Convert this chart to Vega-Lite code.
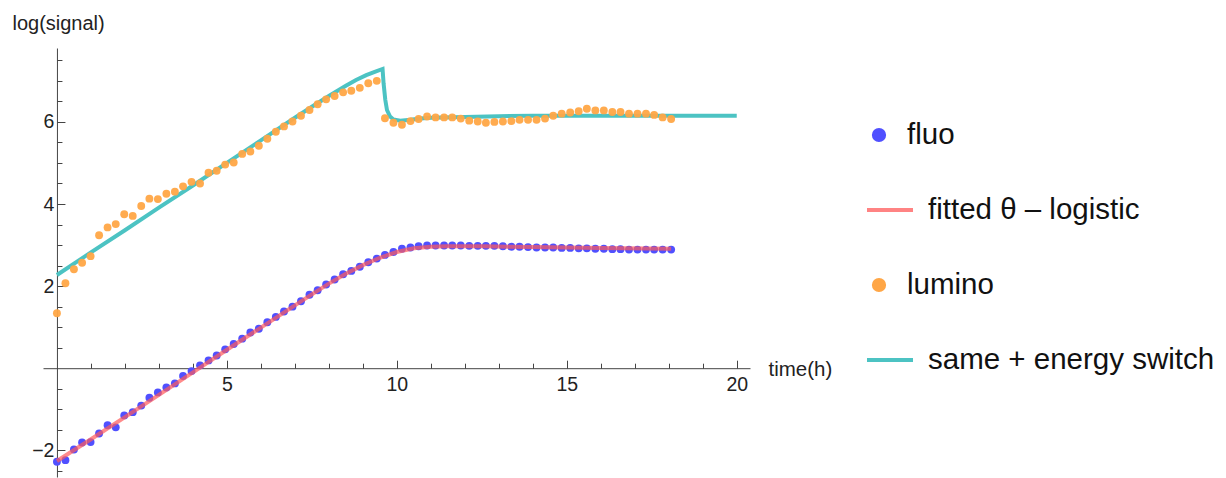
{
  "$schema": "https://vega.github.io/schema/vega-lite/v6.json",
  "width": 707,
  "height": 429,
  "autosize": {"type": "none"},
  "padding": {"left": 43, "top": 48, "right": 476, "bottom": 1},
  "background": "white",
  "config": {"view": {"stroke": null}, "font": "Liberation Sans", "axis": {"labelOverlap": false}},
  "datasets": {
    "obs": [
      {"t": 0, "fluo": -2.28, "lumino": 1.34},
      {"t": 0.25, "fluo": -2.24, "lumino": 2.07},
      {"t": 0.5, "fluo": -1.98, "lumino": 2.41},
      {"t": 0.74, "fluo": -1.81, "lumino": 2.57},
      {"t": 0.99, "fluo": -1.8, "lumino": 2.73},
      {"t": 1.24, "fluo": -1.59, "lumino": 3.24},
      {"t": 1.49, "fluo": -1.39, "lumino": 3.43},
      {"t": 1.73, "fluo": -1.44, "lumino": 3.51},
      {"t": 1.98, "fluo": -1.15, "lumino": 3.75},
      {"t": 2.23, "fluo": -1.07, "lumino": 3.71},
      {"t": 2.48, "fluo": -0.91, "lumino": 3.95},
      {"t": 2.72, "fluo": -0.72, "lumino": 4.13},
      {"t": 2.97, "fluo": -0.59, "lumino": 4.12},
      {"t": 3.22, "fluo": -0.47, "lumino": 4.25},
      {"t": 3.47, "fluo": -0.37, "lumino": 4.3},
      {"t": 3.71, "fluo": -0.19, "lumino": 4.43},
      {"t": 3.96, "fluo": -0.07, "lumino": 4.54},
      {"t": 4.21, "fluo": 0.07, "lumino": 4.5},
      {"t": 4.46, "fluo": 0.19, "lumino": 4.76},
      {"t": 4.7, "fluo": 0.31, "lumino": 4.81},
      {"t": 4.95, "fluo": 0.46, "lumino": 4.96},
      {"t": 5.2, "fluo": 0.59, "lumino": 5.01},
      {"t": 5.45, "fluo": 0.72, "lumino": 5.22},
      {"t": 5.69, "fluo": 0.87, "lumino": 5.28},
      {"t": 5.94, "fluo": 0.96, "lumino": 5.42},
      {"t": 6.19, "fluo": 1.12, "lumino": 5.59},
      {"t": 6.44, "fluo": 1.25, "lumino": 5.76},
      {"t": 6.68, "fluo": 1.38, "lumino": 5.89},
      {"t": 6.93, "fluo": 1.5, "lumino": 6.01},
      {"t": 7.18, "fluo": 1.63, "lumino": 6.15},
      {"t": 7.43, "fluo": 1.79, "lumino": 6.29},
      {"t": 7.67, "fluo": 1.9, "lumino": 6.43},
      {"t": 7.92, "fluo": 2.04, "lumino": 6.55},
      {"t": 8.17, "fluo": 2.16, "lumino": 6.63},
      {"t": 8.42, "fluo": 2.29, "lumino": 6.72},
      {"t": 8.66, "fluo": 2.37, "lumino": 6.76},
      {"t": 8.91, "fluo": 2.47, "lumino": 6.83},
      {"t": 9.16, "fluo": 2.58, "lumino": 6.94},
      {"t": 9.41, "fluo": 2.67, "lumino": 7.0},
      {"t": 9.65, "fluo": 2.76, "lumino": 6.09},
      {"t": 9.9, "fluo": 2.83, "lumino": 5.98},
      {"t": 10.15, "fluo": 2.91, "lumino": 5.93},
      {"t": 10.4, "fluo": 2.94, "lumino": 6.02},
      {"t": 10.64, "fluo": 2.97, "lumino": 6.07},
      {"t": 10.89, "fluo": 2.99, "lumino": 6.13},
      {"t": 11.14, "fluo": 2.99, "lumino": 6.11},
      {"t": 11.39, "fluo": 2.99, "lumino": 6.11},
      {"t": 11.63, "fluo": 2.99, "lumino": 6.11},
      {"t": 11.88, "fluo": 2.99, "lumino": 6.08},
      {"t": 12.13, "fluo": 2.98, "lumino": 6.03},
      {"t": 12.38, "fluo": 2.98, "lumino": 6.01},
      {"t": 12.62, "fluo": 2.98, "lumino": 5.98},
      {"t": 12.87, "fluo": 2.98, "lumino": 6.0},
      {"t": 13.12, "fluo": 2.97, "lumino": 6.01},
      {"t": 13.37, "fluo": 2.96, "lumino": 6.02},
      {"t": 13.61, "fluo": 2.96, "lumino": 6.05},
      {"t": 13.86, "fluo": 2.95, "lumino": 6.05},
      {"t": 14.11, "fluo": 2.94, "lumino": 6.05},
      {"t": 14.36, "fluo": 2.94, "lumino": 6.08},
      {"t": 14.6, "fluo": 2.94, "lumino": 6.15},
      {"t": 14.85, "fluo": 2.93, "lumino": 6.2},
      {"t": 15.1, "fluo": 2.93, "lumino": 6.23},
      {"t": 15.35, "fluo": 2.92, "lumino": 6.26},
      {"t": 15.59, "fluo": 2.92, "lumino": 6.32},
      {"t": 15.84, "fluo": 2.91, "lumino": 6.28},
      {"t": 16.09, "fluo": 2.91, "lumino": 6.28},
      {"t": 16.34, "fluo": 2.9, "lumino": 6.24},
      {"t": 16.58, "fluo": 2.9, "lumino": 6.24},
      {"t": 16.83, "fluo": 2.89, "lumino": 6.2},
      {"t": 17.08, "fluo": 2.89, "lumino": 6.2},
      {"t": 17.33, "fluo": 2.89, "lumino": 6.2},
      {"t": 17.57, "fluo": 2.89, "lumino": 6.17},
      {"t": 17.82, "fluo": 2.89, "lumino": 6.11},
      {"t": 18.07, "fluo": 2.89, "lumino": 6.07}
    ],
    "fits": [
      {"series": "fitted θ – logistic", "t": 0, "v": -2.26},
      {"series": "fitted θ – logistic", "t": 1, "v": -1.73},
      {"series": "fitted θ – logistic", "t": 2, "v": -1.19},
      {"series": "fitted θ – logistic", "t": 3, "v": -0.65},
      {"series": "fitted θ – logistic", "t": 4, "v": -0.1},
      {"series": "fitted θ – logistic", "t": 5, "v": 0.45},
      {"series": "fitted θ – logistic", "t": 6, "v": 0.99},
      {"series": "fitted θ – logistic", "t": 7, "v": 1.53},
      {"series": "fitted θ – logistic", "t": 7.5, "v": 1.8},
      {"series": "fitted θ – logistic", "t": 8, "v": 2.06},
      {"series": "fitted θ – logistic", "t": 8.5, "v": 2.3},
      {"series": "fitted θ – logistic", "t": 9, "v": 2.51},
      {"series": "fitted θ – logistic", "t": 9.5, "v": 2.69},
      {"series": "fitted θ – logistic", "t": 10, "v": 2.83},
      {"series": "fitted θ – logistic", "t": 10.5, "v": 2.92},
      {"series": "fitted θ – logistic", "t": 11, "v": 2.96},
      {"series": "fitted θ – logistic", "t": 11.5, "v": 2.97},
      {"series": "fitted θ – logistic", "t": 12.5, "v": 2.97},
      {"series": "fitted θ – logistic", "t": 14, "v": 2.95},
      {"series": "fitted θ – logistic", "t": 16, "v": 2.93},
      {"series": "fitted θ – logistic", "t": 18.07, "v": 2.91},
      {"series": "same + energy switch", "t": 0, "v": 2.27},
      {"series": "same + energy switch", "t": 1, "v": 2.82},
      {"series": "same + energy switch", "t": 2, "v": 3.36},
      {"series": "same + energy switch", "t": 3, "v": 3.91},
      {"series": "same + energy switch", "t": 4, "v": 4.45},
      {"series": "same + energy switch", "t": 5, "v": 5.0},
      {"series": "same + energy switch", "t": 6, "v": 5.55},
      {"series": "same + energy switch", "t": 7, "v": 6.1},
      {"series": "same + energy switch", "t": 7.5, "v": 6.37},
      {"series": "same + energy switch", "t": 8, "v": 6.63},
      {"series": "same + energy switch", "t": 8.5, "v": 6.88},
      {"series": "same + energy switch", "t": 8.8, "v": 7.02},
      {"series": "same + energy switch", "t": 9.1, "v": 7.14},
      {"series": "same + energy switch", "t": 9.35, "v": 7.22},
      {"series": "same + energy switch", "t": 9.58, "v": 7.29},
      {"series": "same + energy switch", "t": 9.61, "v": 6.94},
      {"series": "same + energy switch", "t": 9.66, "v": 6.54},
      {"series": "same + energy switch", "t": 9.71, "v": 6.29},
      {"series": "same + energy switch", "t": 9.8, "v": 6.13},
      {"series": "same + energy switch", "t": 9.9, "v": 6.06},
      {"series": "same + energy switch", "t": 10.1, "v": 6.03},
      {"series": "same + energy switch", "t": 10.4, "v": 6.05},
      {"series": "same + energy switch", "t": 10.7, "v": 6.08},
      {"series": "same + energy switch", "t": 11, "v": 6.1},
      {"series": "same + energy switch", "t": 12, "v": 6.12},
      {"series": "same + energy switch", "t": 13, "v": 6.14},
      {"series": "same + energy switch", "t": 14, "v": 6.15},
      {"series": "same + energy switch", "t": 20, "v": 6.15}
    ]
  },
  "resolve": {"axis": {"x": "independent", "y": "independent"}},
  "layer": [
    {
      "data": {"name": "fits"},
      "transform": [{"filter": "datum.series === 'same + energy switch'"}],
      "mark": {"type": "line", "strokeWidth": 4, "strokeCap": "butt"},
      "encoding": {
        "x": {
          "field": "t", "type": "quantitative",
          "scale": {"domain": [-0.41, 20.39], "nice": false, "zero": false},
          "axis": {
            "orient": "bottom", "offset": -108.8,
            "values": [5, 10, 15, 20],
            "tickSize": -8, "tickColor": "#444", "domainColor": "#444",
            "labelPadding": 15, "labelOverlap": false, "labelFlush": false,
            "labelFont": "Liberation Sans", "labelFontSize": 19.5, "labelColor": "#222",
            "grid": false,
            "title": "time(h)", "titleX": 725, "titleY": 7, "titleAlign": "left", "titleBaseline": "alphabetic",
            "titleFont": "Liberation Sans", "titleFontSize": 20.5, "titleFontWeight": "normal", "titleColor": "#222", "titleAngle": 0
          }
        },
        "y": {
          "field": "v", "type": "quantitative",
          "scale": {"domain": [-2.65, 7.8], "nice": false, "zero": false},
          "axis": {
            "orient": "left", "offset": -13.94,
            "values": [-2, 2, 4, 6],
            "tickSize": -8, "tickColor": "#444", "domainColor": "#444",
            "labelPadding": 11, "labelOverlap": false, "labelFlush": false,
            "labelFont": "Liberation Sans", "labelFontSize": 19.5, "labelColor": "#222",
            "grid": false,
            "title": "log(signal)", "titleX": -45, "titleY": -19, "titleAlign": "left", "titleBaseline": "alphabetic",
            "titleFont": "Liberation Sans", "titleFontSize": 20, "titleFontWeight": "normal", "titleColor": "#222", "titleAngle": 0
          }
        },
        "color": {
          "field": "series", "type": "nominal",
          "scale": {
            "domain": ["fluo", "fitted θ – logistic", "lumino", "same + energy switch"],
            "range": ["#5050FF", "#FF5A5A", "#FFA646", "#4CC3C3"]
          },
          "legend": {
            "orient": "none", "legendX": 824, "legendY": 62,
            "title": null, "padding": 0,
            "symbolSize": 2116, "symbolType": "stroke", "symbolStrokeWidth": 4,
            "labelFont": "Liberation Sans", "labelFontSize": 29.5, "labelColor": "#111",
            "labelOffset": 11, "rowPadding": 35, "labelLimit": 400,
            "encode": {
              "symbols": {
                "update": {
                  "shape": {"signal": "datum.value === 'fluo' || datum.value === 'lumino' ? 'circle' : 'stroke'"},
                  "size": {"signal": "datum.value === 'fluo' || datum.value === 'lumino' ? 105 : 2116"},
                  "fill": {"signal": "datum.value === 'fluo' || datum.value === 'lumino' ? scale('color', datum.value) : 'transparent'"},
                  "stroke": {"signal": "datum.value === 'fluo' || datum.value === 'lumino' ? 'transparent' : scale('color', datum.value)"},
                  "strokeWidth": {"value": 4},
                  "opacity": {"signal": "datum.value === 'fitted θ – logistic' ? 0.75 : 1"},
                  "x": {"signal": "datum.value === 'fluo' || datum.value === 'lumino' ? 12 : 23"}
                }
              },
              "labels": {
                "update": {"dx": {"signal": "datum.value === 'fluo' || datum.value === 'lumino' ? -21 : 0"}}
              }
            }
          }
        }
      }
    },
    {
      "data": {"name": "obs"},
      "transform": [{"fold": ["fluo", "lumino"], "as": ["series", "v"]}, {"filter": "datum.series === 'lumino'"}],
      "mark": {"type": "point", "filled": true, "size": 62, "opacity": 0.95},
      "encoding": {
        "x": {
          "field": "t", "type": "quantitative",
          "axis": {
            "orient": "bottom", "offset": -108.8,
            "values": [1,2,3,4,6,7,8,9,11,12,13,14,16,17,18,19],
            "tickSize": -5, "tickColor": "#444", "domain": false, "labels": false, "grid": false, "title": null
          }
        },
        "y": {
          "field": "v", "type": "quantitative",
          "axis": {
            "orient": "left", "offset": -13.94,
            "values": [-2.5,-1.5,-1,-0.5,0.5,1,1.5,2.5,3,3.5,4.5,5,5.5,6.5,7,7.5],
            "tickSize": -5, "tickColor": "#444", "domain": false, "labels": false, "grid": false, "title": null
          }
        },
        "color": {"field": "series", "type": "nominal"}
      }
    },
    {
      "data": {"name": "obs"},
      "transform": [{"fold": ["fluo", "lumino"], "as": ["series", "v"]}, {"filter": "datum.series === 'fluo'"}],
      "mark": {"type": "point", "filled": true, "size": 62, "opacity": 1},
      "encoding": {
        "x": {"field": "t", "type": "quantitative", "axis": null},
        "y": {"field": "v", "type": "quantitative", "axis": null},
        "color": {"field": "series", "type": "nominal"}
      }
    },
    {
      "data": {"name": "fits"},
      "transform": [{"filter": "datum.series === 'fitted θ – logistic'"}],
      "mark": {"type": "line", "strokeWidth": 4, "strokeCap": "butt", "opacity": 0.7},
      "encoding": {
        "x": {"field": "t", "type": "quantitative", "axis": null},
        "y": {"field": "v", "type": "quantitative", "axis": null},
        "color": {"field": "series", "type": "nominal"}
      }
    }
  ]
}
